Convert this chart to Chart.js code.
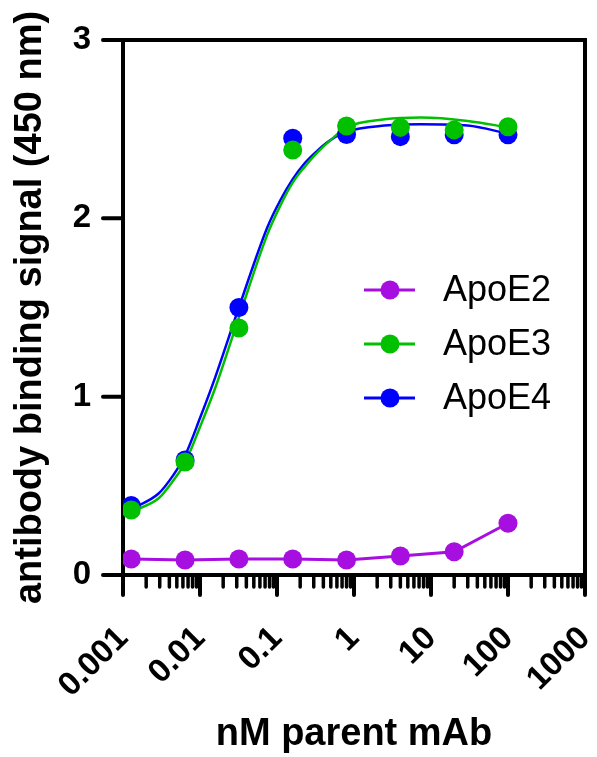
<!DOCTYPE html>
<html>
<head>
<meta charset="utf-8">
<script src="https://cdn.jsdelivr.net/npm/chart.js@4.4.0/dist/chart.umd.min.js"></script>
<style>
  html, body { margin: 0; padding: 0; background: #fff; }
</style>
</head>
<body>
<canvas id="bindingChart" width="597" height="757"></canvas>
<script>
// 5-fold dilution series of the parent mAb (nM)
const concentrations = [0.00128, 0.0064, 0.032, 0.16, 0.8, 4, 20, 100];
const apoE2 = [0.09, 0.084, 0.09, 0.09, 0.084, 0.107, 0.13, 0.29];
const apoE3 = [0.365, 0.634, 1.385, 2.383, 2.518, 2.51, 2.496, 2.514];
const apoE4 = [0.39, 0.645, 1.50, 2.449, 2.47, 2.458, 2.468, 2.468];

// fitted curves
const fitX = [0.00128, 0.0029, 0.0045, 0.0064, 0.01, 0.0158, 0.032, 0.075, 0.11, 0.16, 0.23, 0.335, 0.5, 0.8, 2.5, 7.4, 30, 100];
const fitApoE3 = [0.355, 0.43, 0.53, 0.63, 0.83, 1.05, 1.445, 1.91, 2.07, 2.20, 2.29, 2.37, 2.44, 2.51, 2.555, 2.565, 2.546, 2.51];
const fitApoE4 = [0.37, 0.457, 0.56, 0.67, 0.88, 1.11, 1.50, 1.95, 2.10, 2.22, 2.31, 2.38, 2.44, 2.486, 2.52, 2.528, 2.52, 2.475];

const seriesNames = ['ApoE2', 'ApoE3', 'ApoE4'];
const seriesColors = ['#a60fe0', '#00c000', '#0000ff'];

const xTickValues = [0.001, 0.01, 0.1, 1, 10, 100, 1000];
const xTickLabels = ['0.001', '0.01', '0.1', '1', '10', '100', '1000'];
const yTickValues = [0, 1, 2, 3];

const FONT = '"Liberation Sans", Arial, sans-serif';
Chart.defaults.font.family = FONT;
Chart.defaults.color = '#000';

function toPoints(xs, ys) {
    return xs.map((x, i) => ({ x: x, y: ys[i] }));
}

// Prism style frame with long/short log ticks
const axesPlugin = {
    id: 'prismAxes',
    beforeDatasetsDraw(chart) {
        const { ctx, chartArea: a, scales: { x, y } } = chart;
        ctx.save();
        ctx.strokeStyle = '#000';
        ctx.lineCap = 'round';
        ctx.lineWidth = 4;
        ctx.strokeRect(a.left, a.top, a.right - a.left, a.bottom - a.top);

        ctx.beginPath();
        yTickValues.forEach(v => {
            const py = y.getPixelForValue(v);
            ctx.moveTo(a.left - 20, py);
            ctx.lineTo(a.left, py);
        });
        xTickValues.forEach(v => {
            const px = x.getPixelForValue(v);
            ctx.moveTo(px, a.bottom);
            ctx.lineTo(px, a.bottom + 20);
        });
        ctx.stroke();

        ctx.lineWidth = 3.5;
        ctx.beginPath();
        for (let d = 0; d < xTickValues.length - 1; d++) {
            for (let m = 2; m <= 9; m++) {
                const px = x.getPixelForValue(m * xTickValues[d]);
                ctx.moveTo(px, a.bottom);
                ctx.lineTo(px, a.bottom + 12);
            }
        }
        ctx.stroke();
        ctx.restore();
    }
};

// legend with line + marker, inside the plot
const legendPlugin = {
    id: 'prismLegend',
    afterDatasetsDraw(chart) {
        const ctx = chart.ctx;
        ctx.save();
        ctx.font = '36px ' + FONT;
        ctx.textBaseline = 'middle';
        ctx.textAlign = 'left';
        seriesNames.forEach((name, i) => {
            const ly = 290 + i * 54;
            ctx.strokeStyle = seriesColors[i];
            ctx.fillStyle = seriesColors[i];
            ctx.lineWidth = 3;
            ctx.beginPath();
            ctx.moveTo(364, ly);
            ctx.lineTo(415, ly);
            ctx.stroke();
            ctx.beginPath();
            ctx.arc(390, ly, 9.5, 0, Math.PI * 2);
            ctx.fill();
            ctx.fillStyle = '#000';
            ctx.fillText(name, 443, ly + 1);
        });
        ctx.restore();
    }
};

const ctx = document.getElementById('bindingChart').getContext('2d');
new Chart(ctx, {
    type: 'scatter',
    data: {
        datasets: [
            {
                label: seriesNames[0],
                data: toPoints(concentrations, apoE2),
                showLine: true,
                borderColor: seriesColors[0],
                backgroundColor: seriesColors[0],
                borderWidth: 3,
                pointRadius: 9.5,
                pointBorderWidth: 0,
                order: 1
            },
            {
                label: seriesNames[1],
                data: toPoints(concentrations, apoE3),
                showLine: false,
                borderColor: seriesColors[1],
                backgroundColor: seriesColors[1],
                pointRadius: 9.5,
                pointBorderWidth: 0,
                order: 2
            },
            {
                label: seriesNames[2],
                data: toPoints(concentrations, apoE4),
                showLine: false,
                borderColor: seriesColors[2],
                backgroundColor: seriesColors[2],
                pointRadius: 9.5,
                pointBorderWidth: 0,
                order: 3
            },
            {
                label: seriesNames[1] + ' fit',
                data: toPoints(fitX, fitApoE3),
                showLine: true,
                cubicInterpolationMode: 'monotone',
                borderColor: seriesColors[1],
                borderWidth: 2.5,
                pointRadius: 0,
                order: 4
            },
            {
                label: seriesNames[2] + ' fit',
                data: toPoints(fitX, fitApoE4),
                showLine: true,
                cubicInterpolationMode: 'monotone',
                borderColor: seriesColors[2],
                borderWidth: 2.5,
                pointRadius: 0,
                order: 5
            }
        ]
    },
    options: {
        responsive: false,
        animation: false,
        layout: {
            padding: { top: 40, right: 12, left: 0, bottom: 0 }
        },
        plugins: {
            legend: { display: false },
            tooltip: { enabled: false }
        },
        scales: {
            x: {
                type: 'logarithmic',
                min: 0.001,
                max: 1000,
                afterBuildTicks: s => { s.ticks = xTickValues.map(v => ({ value: v })); },
                afterFit: s => { s.height = 182; s.paddingLeft = 0; s.paddingRight = 0; },
                grid: { display: false },
                border: { display: false },
                ticks: {
                    autoSkip: false,
                    minRotation: 45,
                    maxRotation: 45,
                    padding: 36,
                    font: { size: 33, weight: 'bold' },
                    callback: (v, i) => xTickLabels[i]
                },
                title: {
                    display: true,
                    text: 'nM parent mAb',
                    font: { size: 38, weight: 'bold' },
                    padding: { top: 0, bottom: 0 }
                }
            },
            y: {
                min: 0,
                max: 3,
                afterBuildTicks: s => { s.ticks = yTickValues.map(v => ({ value: v })); },
                afterFit: s => { s.width = 123; s.paddingTop = 0; s.paddingBottom = 0; },
                grid: { display: false },
                border: { display: false },
                ticks: {
                    padding: 24,
                    font: { size: 33, weight: 'bold' }
                },
                title: {
                    display: true,
                    text: 'antibody binding signal (450 nm)',
                    font: { size: 38, weight: 'bold' },
                    padding: { top: 8, bottom: 0 }
                }
            }
        }
    },
    plugins: [axesPlugin, legendPlugin]
});
</script>
</body>
</html>
